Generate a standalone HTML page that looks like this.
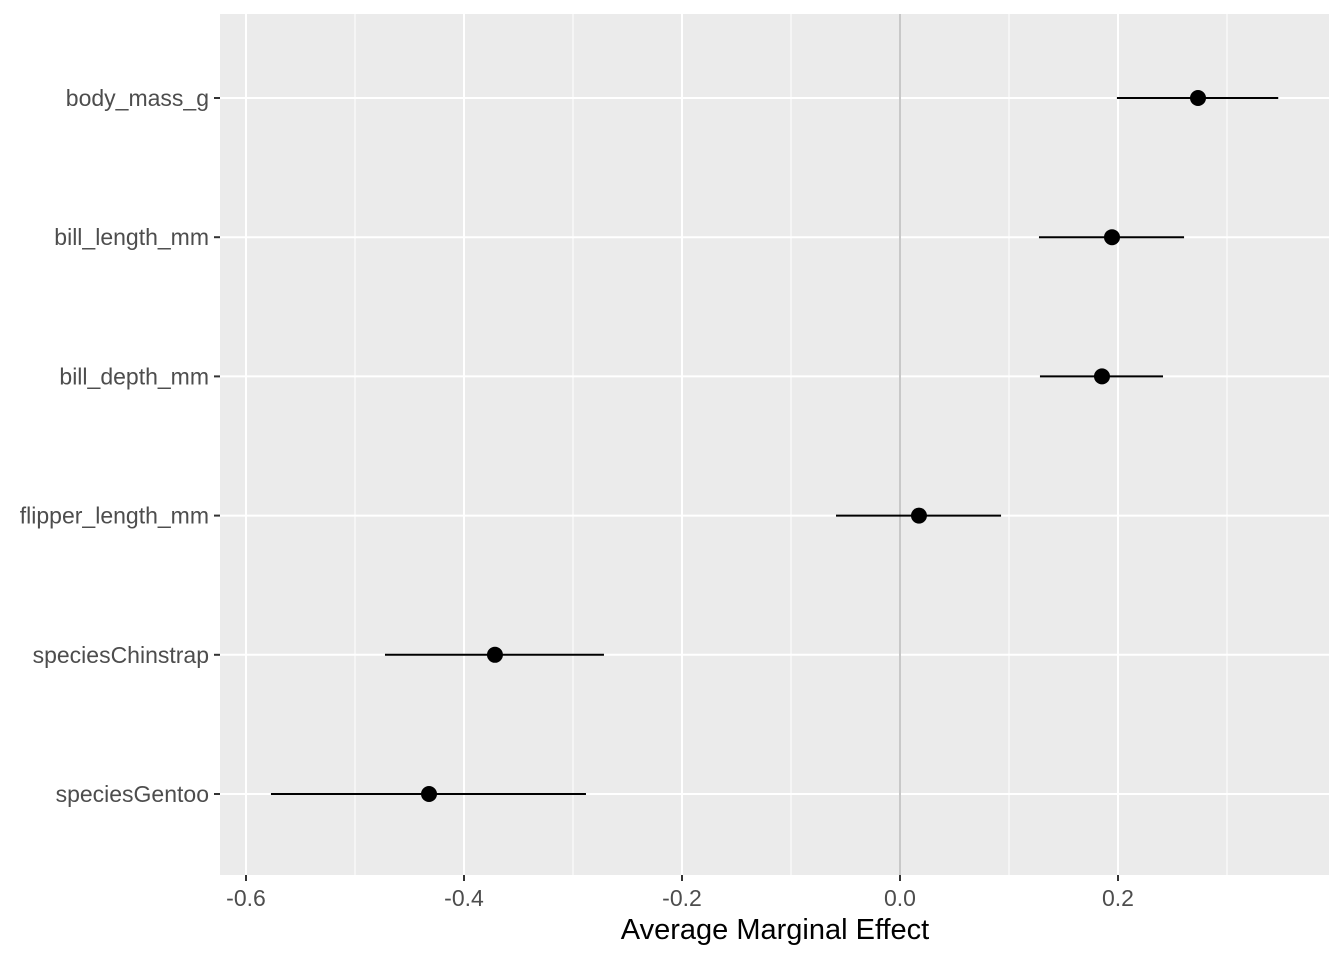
<!DOCTYPE html>
<html><head><meta charset="utf-8"><style>
body{margin:0;background:#fff;}
svg text{font-family:"Liberation Sans",sans-serif;}
</style></head><body>
<svg id="chart" width="1344" height="960" xmlns="http://www.w3.org/2000/svg">
<rect x="220" y="14" width="1109" height="861" fill="#ebebeb"/>
<g id="grid"></g>
<g id="marks"></g>
<g id="axes"></g>
<text x="775" y="939" font-size="29" text-anchor="middle" fill="#000">Average Marginal Effect</text>
</svg>
<script>
const categories=["body_mass_g","bill_length_mm","bill_depth_mm","flipper_length_mm","speciesChinstrap","speciesGentoo"];
const estimates=[0.2734,0.1945,0.1853,0.0174,-0.3716,-0.4321];
const lower=[0.199,0.1275,0.1284,-0.0587,-0.4725,-0.5771];
const upper=[0.347,0.2606,0.2413,0.0927,-0.2716,-0.2881];
const xTicks=[-0.6,-0.4,-0.2,0.0,0.2];
const xTickLabels=["-0.6","-0.4","-0.2","0.0","0.2"];
const xMinor=[-0.5,-0.3,-0.1,0.1,0.3];
const NS="http://www.w3.org/2000/svg";
const xs=v=>900+v*1090;
const ys=i=>98+i*139.2;
function mk(tag,attrs,parent){const e=document.createElementNS(NS,tag);for(const k in attrs)e.setAttribute(k,attrs[k]);parent.appendChild(e);return e;}
const grid=document.getElementById('grid'),marks=document.getElementById('marks'),axes=document.getElementById('axes');
xMinor.forEach(v=>{const l=mk('line',{x1:xs(v),x2:xs(v),y1:14,y2:875,stroke:'#fff','stroke-width':1},grid);

});
xTicks.forEach((v,i)=>{const l=mk('line',{x1:xs(v),x2:xs(v),y1:14,y2:875,stroke:'#fff','stroke-width':2},grid);


const t=mk('line',{x1:xs(v),x2:xs(v),y1:875,y2:881,stroke:'#333','stroke-width':2},axes);


const tx=mk('text',{x:xs(v),y:906,'font-size':23,'text-anchor':'middle',fill:'#4d4d4d'},axes);tx.textContent=xTickLabels[i];

});
categories.forEach((c,i)=>{const y=ys(i);
const g=mk('line',{x1:220,x2:1329,y1:y,y2:y,stroke:'#fff','stroke-width':2},grid);


const t=mk('line',{x1:214,x2:220,y1:y,y2:y,stroke:'#333','stroke-width':2},axes);


const tx=mk('text',{x:209,y:y+8,'font-size':23,'text-anchor':'end',fill:'#4d4d4d'},axes);tx.textContent=c;

});
const z=mk('line',{x1:xs(0),x2:xs(0),y1:14,y2:875,stroke:'#c8c8c8','stroke-width':2},grid);


categories.forEach((c,i)=>{const y=ys(i);
const l=mk('line',{x1:xs(lower[i]),x2:xs(upper[i]),y1:y,y2:y,stroke:'#000','stroke-width':2},marks);


const p=mk('circle',{cx:xs(estimates[i]),cy:y,r:8,fill:'#000'},marks);

});
</script>
</body></html>
